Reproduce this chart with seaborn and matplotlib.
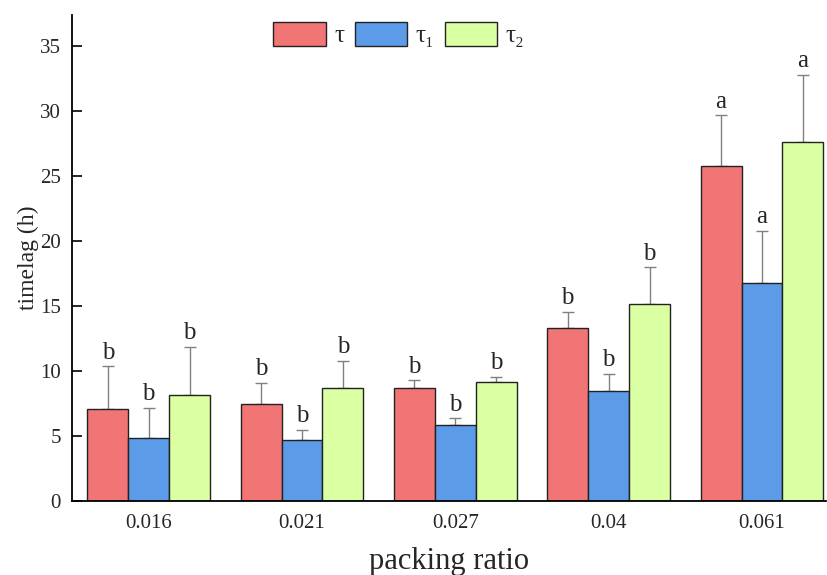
#!/usr/bin/env python3

import matplotlib
matplotlib.use("Agg")
import matplotlib.pyplot as plt
import numpy as np
import pandas as pd
import seaborn as sns

# data
RATIOS = ["0.016", "0.021", "0.027", "0.04", "0.061"]
SERIES = ["τ", "τ₁", "τ₂"]
TAU = [7.1, 7.5, 8.7, 13.3, 25.8]
TAU1 = [4.9, 4.7, 5.85, 8.5, 16.8]
TAU2 = [8.2, 8.7, 9.15, 15.2, 27.6]
TAU_ERR = [3.3, 1.6, 0.6, 1.3, 3.9]
TAU1_ERR = [2.3, 0.8, 0.55, 1.3, 4.0]
TAU2_ERR = [3.7, 2.1, 0.45, 2.8, 5.2]
LETTERS = ["b", "b", "b", "b", "a"]

COLORS = ["#F27576", "#5B9BE8", "#DBFFA3"]

sns.set_style("ticks")
plt.rcParams["font.family"] = ["Liberation Serif", "DejaVu Serif"]

df = pd.DataFrame({
    "ratio": RATIOS * 3,
    "series": [s for s in SERIES for _ in RATIOS],
    "value": TAU + TAU1 + TAU2,
    "err": TAU_ERR + TAU1_ERR + TAU2_ERR,
    "letter": LETTERS * 3,
})

fig, ax = plt.subplots(figsize=(8.28, 5.75), dpi=100)

sns.barplot(data=df, x="ratio", y="value", hue="series", order=RATIOS,
            hue_order=SERIES, palette=COLORS, errorbar=None, width=0.8,
            edgecolor="#222222", linewidth=1.0, saturation=1, ax=ax)

# error bars (upper only) and significance letters
for container, s in zip(ax.containers, SERIES):
    sub = df[df["series"] == s].set_index("ratio").loc[RATIOS]
    xs = np.array([p.get_x() + p.get_width() / 2 for p in container.patches])
    ax.errorbar(xs, sub["value"], yerr=[np.zeros(len(xs)), sub["err"]],
                fmt="none", ecolor="#808080", elinewidth=1.0, capsize=4.5,
                capthick=1.0, zorder=0.5)
    for x, v, e, lt in zip(xs, sub["value"], sub["err"], sub["letter"]):
        ax.text(x, v + e + 0.2, lt, ha="center", va="bottom", fontsize=18)

ax.set_ylim(0, 37.4)
ax.set_xlim(-0.5, 4.42)
ax.set_yticks(np.arange(0, 36, 5))
ax.set_xlabel("packing ratio", fontsize=22, labelpad=10)
ax.set_ylabel("timelag (h)", fontsize=17, labelpad=1)
ax.tick_params(axis="y", direction="in", length=7, width=1.2, labelsize=15,
               pad=8, color="black")
ax.tick_params(axis="x", length=0, labelsize=15, pad=9)

sns.despine(ax=ax)
for sp in ["left", "bottom"]:
    ax.spines[sp].set_linewidth(1.3)
    ax.spines[sp].set_color("black")

leg = ax.legend(loc="upper left", bbox_to_anchor=(0.237, 1.031), ncol=3,
                frameon=False, fontsize=18, handlelength=2.1, handleheight=1.05,
                columnspacing=0.4, handletextpad=0.35)

fig.subplots_adjust(left=0.087, right=0.998, top=0.974, bottom=0.128)
fig.savefig("out.png", dpi=100)
